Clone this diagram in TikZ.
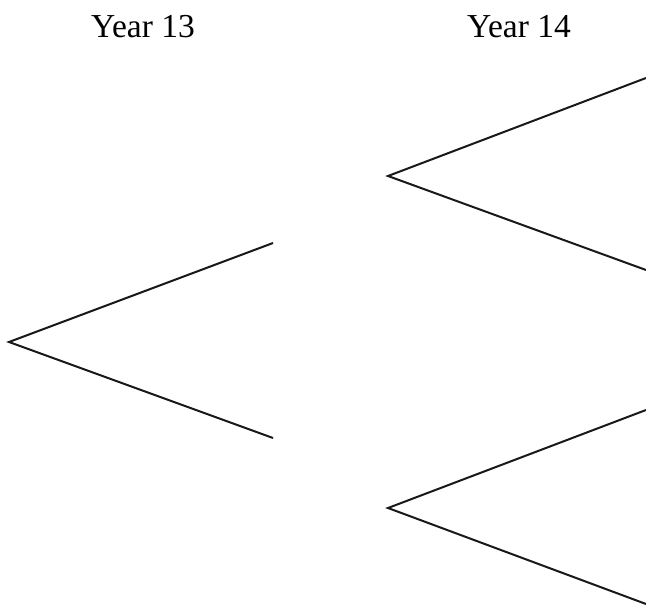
\documentclass[tikz,border=0pt]{standalone}
\usepackage{fontspec}
\setmainfont{Liberation Serif}
\begin{document}
\begin{tikzpicture}[x=1pt,y=-1pt,
  branch/.style={line width=2pt, line cap=butt, line join=miter, black!90},
  lbl/.style={font=\fontsize{33.5}{38}\selectfont, anchor=base, inner sep=0pt}]
\useasboundingbox (0,0) rectangle (646,607);
\node[lbl] (y13) at (143,38) {Year 13};
\node[lbl] (y14) at (519,38) {Year 14};
\coordinate (r1) at (9,342);
\coordinate (a1) at (273,243);
\coordinate (b1) at (273,438);
\coordinate (r2) at (388,176);
\coordinate (a2) at (646,78);
\coordinate (b2) at (646,270);
\coordinate (r3) at (388,508);
\coordinate (a3) at (646,410);
\coordinate (b3) at (646,604);
\draw[branch] (a1) -- (r1) -- (b1);
\draw[branch] (a2) -- (r2) -- (b2);
\draw[branch] (a3) -- (r3) -- (b3);
\end{tikzpicture}
\end{document}
